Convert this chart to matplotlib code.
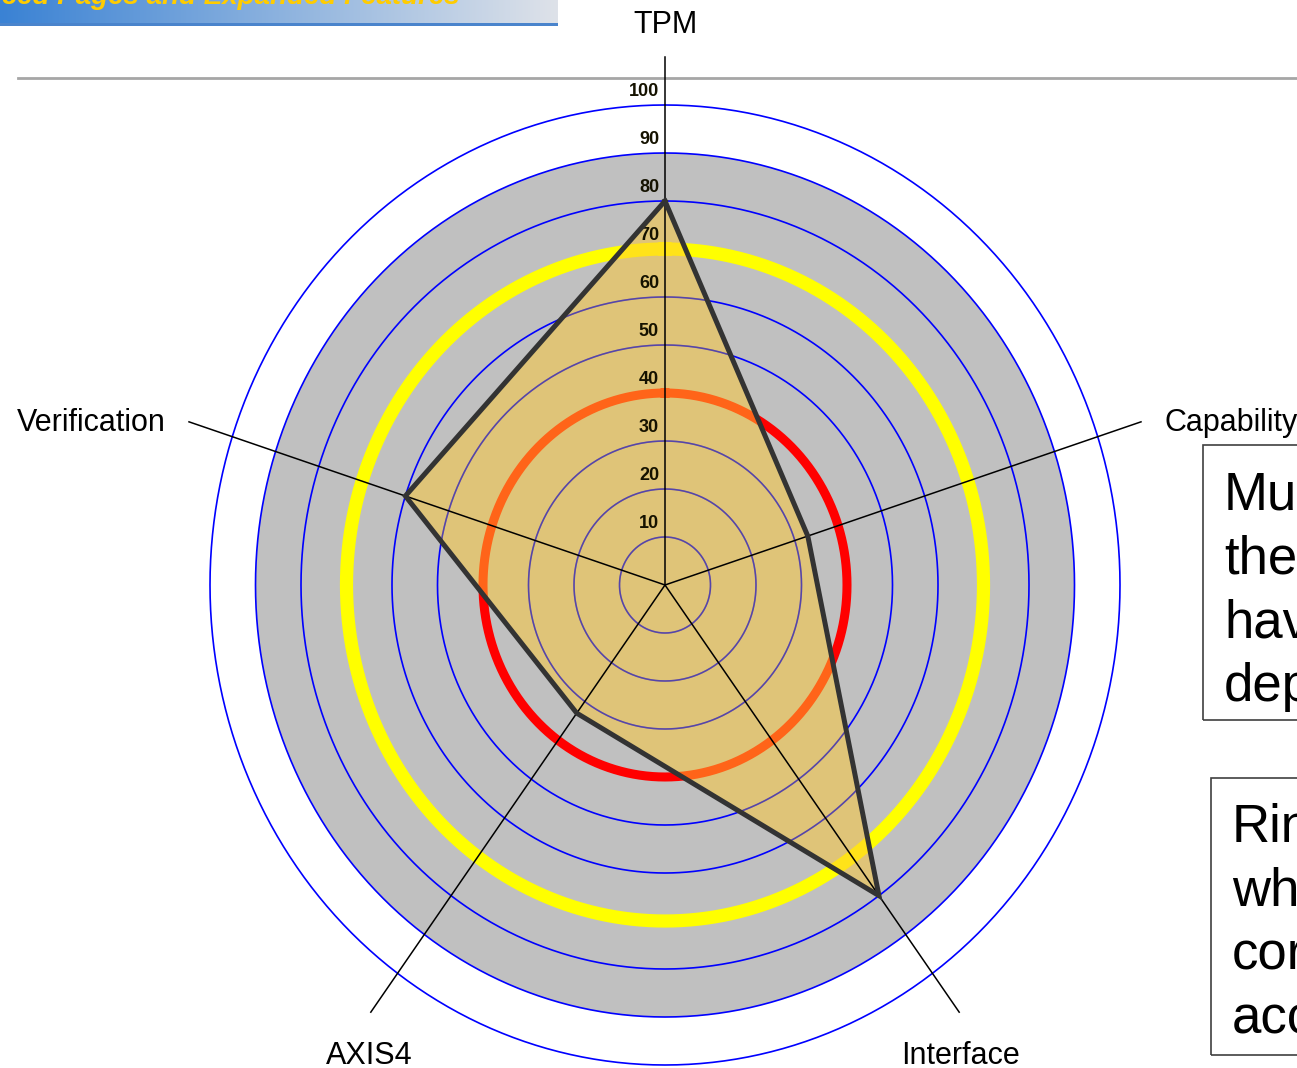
import numpy as np
import matplotlib
matplotlib.use("Agg")
import matplotlib.pyplot as plt
from matplotlib.patches import Rectangle
from matplotlib.lines import Line2D

# ---------------- data ----------------
categories = ["TPM", "Capability", "Interface", "AXIS4", "Verification"]
scores = [80, 33, 80, 33, 60]
tick_values = [10, 20, 30, 40, 50, 60, 70, 80, 90, 100]
tick_labels = ["10", "20", "30", "40", "50", "60", "70", "80", "90", "100"]
ring_values = [10, 20, 30, 40, 50, 60, 70, 80, 90, 100]
red_ring = 40
yellow_ring = 70
grey_limit = 90
axis_length = 110

box1_lines = ["Mu", "the", "hav", "dep"]
box2_lines = ["Rin", "wh", "cor", "acc"]
title_text = "Advanced Pages and Expanded Features"

# ---------------- figure ----------------
plt.rcParams["font.family"] = ["Liberation Sans", "DejaVu Sans"]
W, H = 1297, 1068
fig = plt.figure(figsize=(W / 100, H / 100), dpi=100)
fig.patch.set_facecolor("white")

# chart geometry (pixels)
cx, cy = 665, 585          # centre, from top-left
sx, sy = 4.55, 4.80        # px per unit horizontally / vertically
RMAX = 120
wpx, hpx = 2 * RMAX * sx, 2 * RMAX * sy
ax = fig.add_axes([(cx - wpx / 2) / W, (H - cy - hpx / 2) / H, wpx / W, hpx / H],
                  projection="polar")
ax.set_aspect("auto")
ax.set_theta_zero_location("N")
ax.set_theta_direction(-1)
ax.set_ylim(0, RMAX)
ax.axis("off")

full = np.linspace(0, 2 * np.pi, 721)
angles = np.arange(len(categories)) * 2 * np.pi / len(categories)

# grey disk
ax.fill(full, np.full_like(full, grey_limit), color="#c0c0c0", lw=0, zorder=1)
# blue rings
for r in ring_values:
    ax.plot(full, np.full_like(full, r), color="#0000ff", lw=1.2, zorder=2)
# yellow and red rings
ax.plot(full, np.full_like(full, yellow_ring), color="#ffff00", lw=9.5, zorder=2.2)
ax.plot(full, np.full_like(full, red_ring), color="#ff0000", lw=6.5, zorder=2.2)

# data polygon fill
th = np.append(angles, angles[0])
rr = np.append(scores, scores[0])
poly = ax.fill(th, rr, color="#ffc832", alpha=0.5, lw=0, zorder=3)[0]

# blue rings seen through the fill (clipped to the polygon)
for r in ring_values:
    if r in (red_ring, yellow_ring):
        continue
    ln, = ax.plot(full, np.full_like(full, r), color="#2020c0", lw=1.0,
                  alpha=0.45, zorder=3.1)
    ln.set_clip_path(poly)

# radial axis lines
for a in angles:
    ax.plot([a, a], [0, axis_length], color="black", lw=1.1, zorder=3.2)

# tick labels along TPM axis
for v, lbl in zip(tick_values, tick_labels):
    ax.annotate(lbl, xy=(0, v), xytext=(-6, 13), textcoords="offset pixels",
                ha="right", va="center", fontsize=13, fontweight="bold",
                color="#151200", zorder=3.5)

# polygon outline
ax.plot(th, rr, color="#333333", lw=3.6, zorder=4, solid_joinstyle="miter")

# category labels
label_style = [
    ((0, 24), "center", "baseline"),
    ((23, -9), "left", "baseline"),
    ((1, -52), "center", "baseline"),
    ((-2, -52), "center", "baseline"),
    ((-23, -9), "right", "baseline"),
]
for a, name, (off, ha, va) in zip(angles, categories, label_style):
    ax.annotate(name, xy=(a, axis_length), xytext=off, textcoords="offset pixels",
                ha=ha, va=va, fontsize=22, color="black", zorder=5)

# ---------------- slide decorations ----------------
# title banner gradient
bax = fig.add_axes([0, (H - 23) / H, 558 / W, 23 / H], zorder=-2)
grad = np.linspace(0, 1, 256)
c0 = np.array([58, 130, 212]) / 255
c1 = np.array([222, 226, 233]) / 255
img = (c0[None, :] * (1 - grad[:, None]) + c1[None, :] * grad[:, None])[None, :, :]
bax.imshow(img, aspect="auto", extent=[0, 1, 0, 1])
bax.axis("off")
fig.add_artist(Rectangle((0, (H - 26) / H), 558 / W, 3 / H, transform=fig.transFigure,
                         color="#4a84cc", lw=0, zorder=-1))
fig.text(460 / W, (H - 4) / H, title_text, ha="right", va="baseline", fontsize=20,
         fontweight="bold", fontstyle="italic", color="#ffcc00", zorder=1)

# grey rule
fig.add_artist(Line2D([18 / W, 1.0], [(H - 78) / H] * 2, transform=fig.transFigure,
                      color="#a6a6a6", lw=2, zorder=-1))

# text boxes on the right
fig.add_artist(Rectangle((1203 / W, (H - 720) / H), 300 / W, 275 / H,
                         transform=fig.transFigure, fill=False, ec="#404040", lw=1.2))
for i, t in enumerate(box1_lines):
    fig.text(1224 / W, (H - (509 + 64 * i)) / H, t, ha="left", va="baseline",
             fontsize=38, color="black")
fig.add_artist(Rectangle((1211 / W, (H - 1055) / H), 300 / W, 277 / H,
                         transform=fig.transFigure, fill=False, ec="#404040", lw=1.2))
for i, t in enumerate(box2_lines):
    fig.text(1232 / W, (H - (842 + 64 * i)) / H, t, ha="left", va="baseline",
             fontsize=38, color="black")

fig.savefig("out.png", dpi=100)
